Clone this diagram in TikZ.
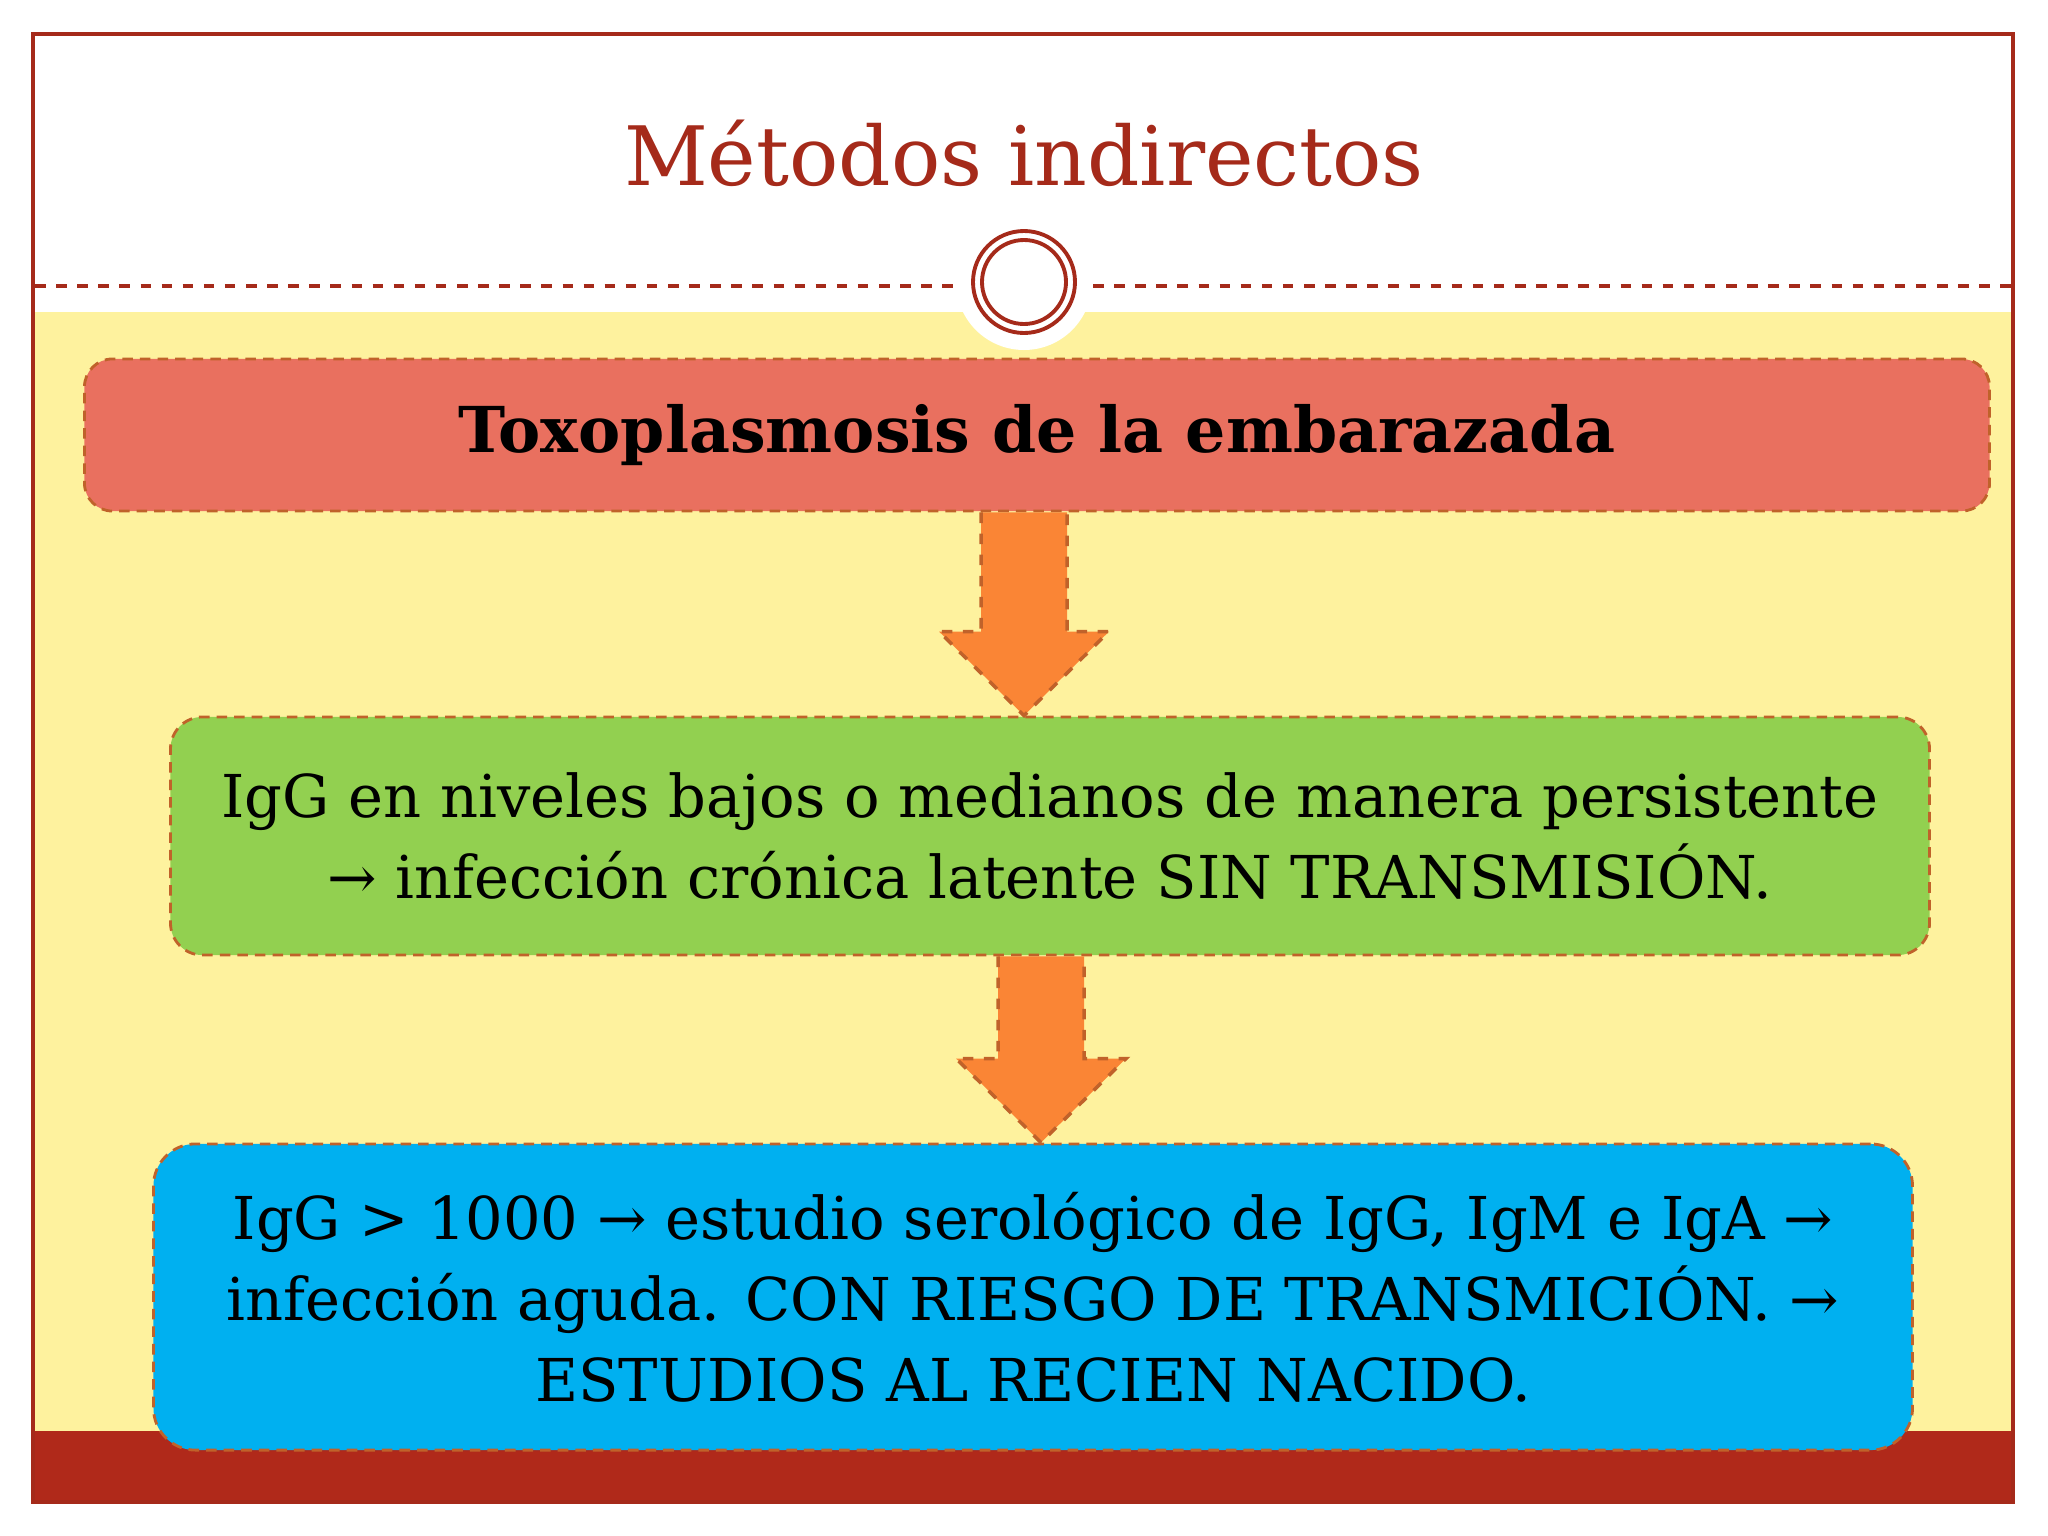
\documentclass[tikz,border=0pt]{standalone}
\usepackage{fontspec}
\setmainfont{DejaVu Serif}
\usetikzlibrary{calc}
\definecolor{framered}{HTML}{A52A1A}
\definecolor{bandred}{HTML}{B0291A}
\definecolor{bgyellow}{HTML}{FEF29E}
\definecolor{boxred}{HTML}{E9705F}
\definecolor{boxgreen}{HTML}{92D050}
\definecolor{boxblue}{HTML}{00B0F0}
\definecolor{arroworange}{HTML}{FA8535}
\definecolor{dashbrown}{HTML}{C0622A}
\begin{document}
\begin{tikzpicture}[x=0.01cm, y=-0.01cm,
  infobox/.style={draw=dashbrown, densely dashed, line width=0.8pt, align=center, inner sep=0pt},
  downarrow/.style={fill=arroworange, draw=dashbrown, dashed, line width=1pt}]
\useasboundingbox (0,0) rectangle (2048,1536);
% slide frame and background
\fill[bgyellow] (35,312) rectangle (2011,1431);
\fill[bandred] (35,1431) rectangle (2011,1501);
\draw[framered, line width=1.2pt] (33,34) rectangle (2013,1502);
\draw[framered, dashed, line width=1pt] (35,286) -- (953,286);
\draw[framered, dashed, line width=1pt] (1093,286) -- (2011,286);
\fill[white] (1024,282) circle (68);
\draw[framered, line width=1.1pt] (1024,282) circle (51);
\draw[framered, line width=1.1pt] (1024,282) circle (42);
\node[text=framered, font=\fontsize{23.3}{28}\selectfont] (title) at (1024,153) {Métodos indirectos};
% boxes
\node[infobox, fill=boxred, rounded corners=0.28cm, minimum width=19.04cm, minimum height=1.52cm,
  font=\fontsize{18}{22}\selectfont\bfseries] (toxo) at (1037,435) {Toxoplasmosis de la embarazada};
\node[infobox, fill=boxgreen, rounded corners=0.32cm, minimum width=17.58cm, minimum height=2.38cm,
  font=\fontsize{16.8}{23}\selectfont] (igg) at (1050,836)
  {IgG en niveles bajos o medianos de manera persistente\\ → infección crónica latente SIN TRANSMISIÓN.};
\node[infobox, fill=boxblue, rounded corners=0.42cm, minimum width=17.58cm, minimum height=3.06cm,
  font=\fontsize{16.8}{23}\selectfont] (aguda) at (1033,1297)
  {IgG > 1000 → estudio serológico de IgG, IgM e IgA →\\ infección aguda. CON RIESGO DE TRANSMICIÓN. →\\ ESTUDIOS AL RECIEN NACIDO.};
% arrows
\coordinate (c1) at (1024,0);
\coordinate (c2) at (1041,0);
\filldraw[downarrow] ($(toxo.south -| c1)+(-43,0)$) -- ($(igg.north -| c1)+(-43,-84)$) -- ++(-42,0)
  -- (igg.north -| c1) -- ($(igg.north -| c1)+(85,-84)$) -- ++(-42,0) -- ($(toxo.south -| c1)+(43,0)$);
\filldraw[downarrow] ($(igg.south -| c2)+(-43,0)$) -- ($(aguda.north -| c2)+(-43,-84)$) -- ++(-42,0)
  -- (aguda.north -| c2) -- ($(aguda.north -| c2)+(85,-84)$) -- ++(-42,0) -- ($(igg.south -| c2)+(43,0)$);
\end{tikzpicture}
\end{document}
